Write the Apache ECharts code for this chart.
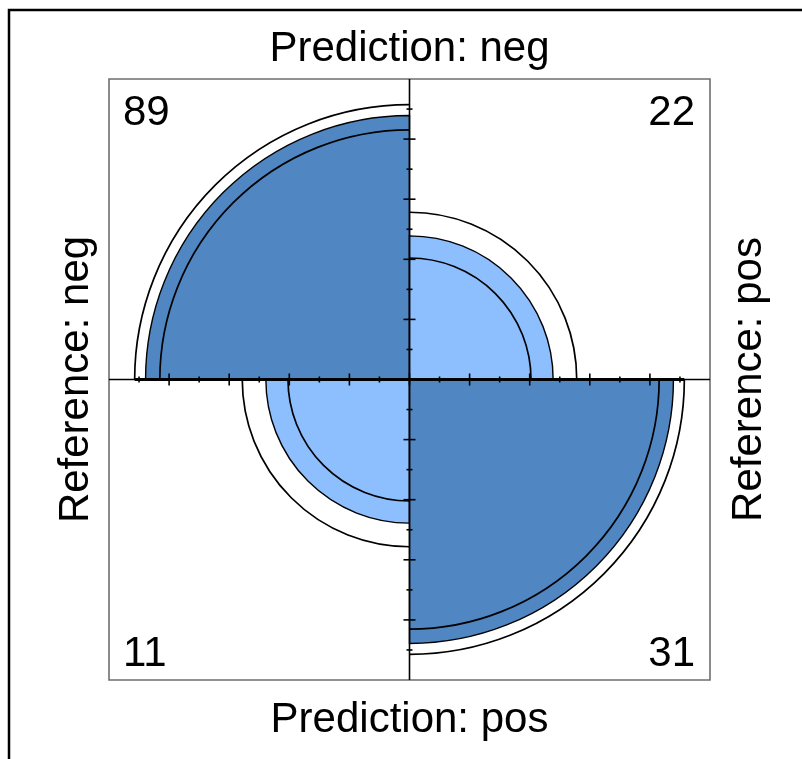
<!DOCTYPE html>
<html>
<head>
<meta charset="utf-8">
<script src="https://cdn.jsdelivr.net/npm/echarts@6/dist/echarts.min.js"></script>
<style>
  html, body { margin: 0; padding: 0; background: #ffffff; }
  #chart { width: 802px; height: 759px; }
</style>
</head>
<body>
<div id="chart"></div>
<script>
// ---- Data (confusion matrix counts) ----
// order of cells: top-left, top-right, bottom-left, bottom-right
const predictionLabels = ['Prediction: neg', 'Prediction: pos'];   // rows (top, bottom)
const referenceLabels = ['Reference: neg', 'Reference: pos'];      // columns (left, right)
const cellRow = [0, 0, 1, 1];
const cellCol = [0, 1, 0, 1];
const counts = [89, 22, 11, 31];
const confLevel = 0.95;
const tickMajor = [-0.8, -0.6, -0.4, -0.2, 0, 0.2, 0.4, 0.6, 0.8];
const tickMinor = [-0.9, -0.7, -0.5, -0.3, -0.1, 0.1, 0.3, 0.5, 0.7, 0.9];

// ---- fourfold standardisation (both margins equal), as in R fourfoldplot ----
const oddsRatio = (counts[0] * counts[3]) / (counts[1] * counts[2]);
function diagShare(or) { const s = Math.sqrt(or); return s / (1 + s); }
const seLog = Math.sqrt(1 / counts[0] + 1 / counts[1] + 1 / counts[2] + 1 / counts[3]);
const z = 1.959964; // qnorm(1 - (1 - confLevel) / 2)
const orLow = Math.exp(Math.log(oddsRatio) - z * seLog);
const orHigh = Math.exp(Math.log(oddsRatio) + z * seLog);
function cellRadius(i, or) {
  const p = diagShare(or);
  const isDiag = cellRow[i] === cellCol[i];
  return Math.sqrt(isDiag ? p : 1 - p);
}

const darkBlue = '#5086C1';
const lightBlue = '#8DBFFF';
const fontFam = '"Liberation Sans", Arial, Helvetica, sans-serif';

// angles (screen, clockwise from +x) for each quadrant
const startAngles = [Math.PI, 1.5 * Math.PI, 0.5 * Math.PI, 0];

const cellData = counts.map((c, i) => ({ value: [i, c] }));

function renderCell(params, api) {
  const i = api.value(0);
  const c = api.coord([0, 0]);
  const rFill = api.size([cellRadius(i, oddsRatio), 0])[0];
  const rA = api.size([cellRadius(i, orLow), 0])[0];
  const rB = api.size([cellRadius(i, orHigh), 0])[0];
  const a0 = startAngles[i], a1 = a0 + Math.PI / 2;
  const isDiag = cellRow[i] === cellCol[i];
  return {
    type: 'group',
    children: [
      { type: 'sector', shape: { cx: c[0], cy: c[1], r0: 0, r: rFill, startAngle: a0, endAngle: a1, clockwise: true },
        style: { fill: isDiag ? darkBlue : lightBlue, stroke: '#000', lineWidth: 1.4 } },
      { type: 'arc', shape: { cx: c[0], cy: c[1], r: rA, startAngle: a0, endAngle: a1, clockwise: true },
        style: { fill: null, stroke: '#000', lineWidth: 1.7 } },
      { type: 'arc', shape: { cx: c[0], cy: c[1], r: rB, startAngle: a0, endAngle: a1, clockwise: true },
        style: { fill: null, stroke: '#000', lineWidth: 1.7 } }
    ]
  };
}

function renderAxes(params, api) {
  const ch = [];
  const p = (x, y) => api.coord([x, y]);
  // full axes
  let a = p(-1, 0), b = p(1, 0);
  ch.push({ type: 'line', shape: { x1: a[0], y1: a[1], x2: b[0], y2: b[1] }, style: { stroke: '#000', lineWidth: 1.3 } });
  const rMax = Math.max(...counts.map((_, i) => Math.max(cellRadius(i, orLow), cellRadius(i, orHigh))));
  a = p(-rMax, 0); b = p(rMax, 0);
  ch.push({ type: 'line', shape: { x1: a[0], y1: a[1], x2: b[0], y2: b[1] }, style: { stroke: '#000', lineWidth: 3 } });
  a = p(0, -1); b = p(0, 1);
  ch.push({ type: 'line', shape: { x1: a[0], y1: a[1], x2: b[0], y2: b[1] }, style: { stroke: '#000', lineWidth: 1.6 } });
  tickMajor.forEach(t => {
    let u = p(t, -0.02), v = p(t, 0.02);
    ch.push({ type: 'line', shape: { x1: u[0], y1: u[1], x2: v[0], y2: v[1] }, style: { stroke: '#000', lineWidth: 1.6 } });
    u = p(-0.02, t); v = p(0.02, t);
    ch.push({ type: 'line', shape: { x1: u[0], y1: u[1], x2: v[0], y2: v[1] }, style: { stroke: '#000', lineWidth: 1.6 } });
  });
  tickMinor.forEach(t => {
    let u = p(t, -0.01), v = p(t, 0.01);
    ch.push({ type: 'line', shape: { x1: u[0], y1: u[1], x2: v[0], y2: v[1] }, style: { stroke: '#000', lineWidth: 1.6 } });
    u = p(-0.01, t); v = p(0.01, t);
    ch.push({ type: 'line', shape: { x1: u[0], y1: u[1], x2: v[0], y2: v[1] }, style: { stroke: '#000', lineWidth: 1.6 } });
  });
  // counts in the corners
  const tl = p(-1, 1), br = p(1, -1);
  counts.forEach((cnt, i) => {
    const left = cellCol[i] === 0, top = cellRow[i] === 0;
    ch.push({ type: 'text', style: {
      text: String(cnt),
      x: left ? tl[0] + 14 : br[0] - 15,
      y: top ? tl[1] + 34 : br[1] - 26,
      align: left ? 'left' : 'right', verticalAlign: 'middle',
      fill: '#000', fontSize: 42, fontFamily: fontFam } });
  });
  return { type: 'group', children: ch };
}

const chart = echarts.init(document.getElementById('chart'), null, { renderer: 'canvas' });
chart.setOption({
  animation: false,
  backgroundColor: '#ffffff',
  grid: { left: 109, top: 79, width: 601, height: 601, show: true, borderColor: '#6e6e6e', borderWidth: 1.6, backgroundColor: 'transparent' },
  xAxis: { type: 'value', min: -1, max: 1, show: false },
  yAxis: { type: 'value', min: -1, max: 1, show: false },
  graphic: [
    { type: 'rect', shape: { x: 9, y: 10, width: 1000, height: 1000 }, style: { fill: null, stroke: '#000', lineWidth: 2.5 }, z: 10 },
    { type: 'text', x: 409.5, y: 49, style: { text: predictionLabels[0], align: 'center', verticalAlign: 'middle', fontSize: 42, fontFamily: fontFam, fill: '#000' } },
    { type: 'text', x: 409.5, y: 720, style: { text: predictionLabels[1], align: 'center', verticalAlign: 'middle', fontSize: 42, fontFamily: fontFam, fill: '#000' } },
    { type: 'text', x: 76, y: 379.5, rotation: Math.PI / 2, style: { text: referenceLabels[0], align: 'center', verticalAlign: 'middle', fontSize: 42, fontFamily: fontFam, fill: '#000' } },
    { type: 'text', x: 749, y: 379.5, rotation: Math.PI / 2, style: { text: referenceLabels[1], align: 'center', verticalAlign: 'middle', fontSize: 42, fontFamily: fontFam, fill: '#000' } }
  ],
  series: [
    { type: 'custom', coordinateSystem: 'cartesian2d', data: cellData, renderItem: renderCell, z: 2, silent: true, clip: false },
    { type: 'custom', coordinateSystem: 'cartesian2d', data: [{ value: [0, 0] }], renderItem: renderAxes, z: 3, silent: true, clip: false }
  ]
});
</script>
</body>
</html>
